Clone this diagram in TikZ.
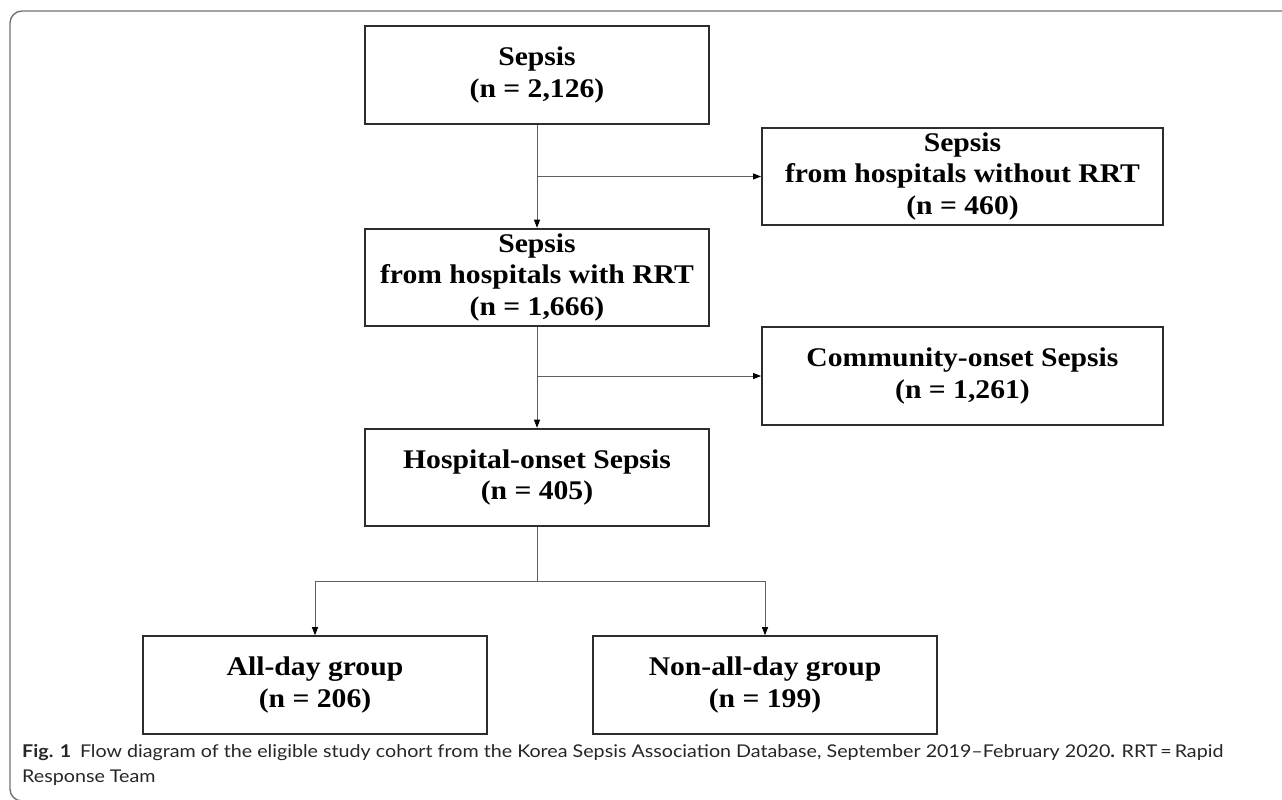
\documentclass[tikz,border=0pt]{standalone}
\usepackage{fontspec}
\setmainfont{Liberation Serif}
\newfontfamily\boxfont[FakeStretch=1.1]{Liberation Serif}
\newfontfamily\capfont[FakeStretch=1.12]{Lato}
\usetikzlibrary{arrows.meta}
\definecolor{boxline}{RGB}{45,45,45}
\definecolor{linkline}{RGB}{95,95,95}
\definecolor{frameline}{RGB}{115,115,115}
\tikzset{
  flowbox/.style={draw=boxline, line width=1.6pt, minimum width=10.32cm, minimum height=2.93cm,
    inner sep=0pt, align=center, font=\boxfont\bfseries\fontsize{23}{26.5}\selectfont},
  sidebox/.style={flowbox, minimum width=12.03cm},
  link/.style={draw=linkline, line width=0.8pt},
  linkarrow/.style={link, -{Triangle[length=0.24cm,width=0.18cm,color=black]}}
}
\begin{document}
\begin{tikzpicture}[x=0.03cm, y=-0.03cm]
\useasboundingbox (0,0) rectangle (1282,799);

% outer frame, cut at the page edge
\begin{scope}
\clip (0,0) rectangle (1282,799);
\draw[frameline, line width=1.2pt, rounded corners=0.36cm] (10,11) rectangle (1330,801);
\end{scope}

\node[flowbox] (sepsis) at (537,75) {Sepsis\\(n = 2,126)};
\node[sidebox] (norrt) at (962.5,176.5) {Sepsis\\from hospitals without RRT\\(n = 460)};
\node[flowbox] (rrt) at (537,277.5) {Sepsis\\from hospitals with RRT\\(n = 1,666)};
\node[sidebox] (community) at (962.5,376) {Community-onset Sepsis\\(n = 1,261)};
\node[flowbox] (hospital) at (537,477.5) {Hospital-onset Sepsis\\(n = 405)};
\node[flowbox] (allday) at (315,685) {All-day group\\(n = 206)};
\node[flowbox] (nonallday) at (765,685) {Non-all-day group\\(n = 199)};

\draw[linkarrow] (sepsis.south) -- (rrt.north);
\draw[linkarrow] (sepsis.south |- norrt.west) -- (norrt.west);
\draw[linkarrow] (rrt.south) -- (hospital.north);
\draw[linkarrow] (rrt.south |- community.west) -- (community.west);

\coordinate (split) at (537,581);
\draw[link] (hospital.south) -- (split);
\draw[linkarrow] (split) -| (allday.north);
\draw[linkarrow] (split) -| (nonallday.north);

\node[anchor=north west, align=left, inner sep=0pt, text=black!85,
  font=\capfont\fontsize{15}{21.3}\selectfont] (caption) at (22,744)
  {\textbf{Fig. 1}\enspace Flow diagram of the eligible study cohort from the Korea Sepsis Association Database, September 2019–February 2020\textbf{.} RRT\,=\,Rapid\\Response Team};
\end{tikzpicture}
\end{document}
